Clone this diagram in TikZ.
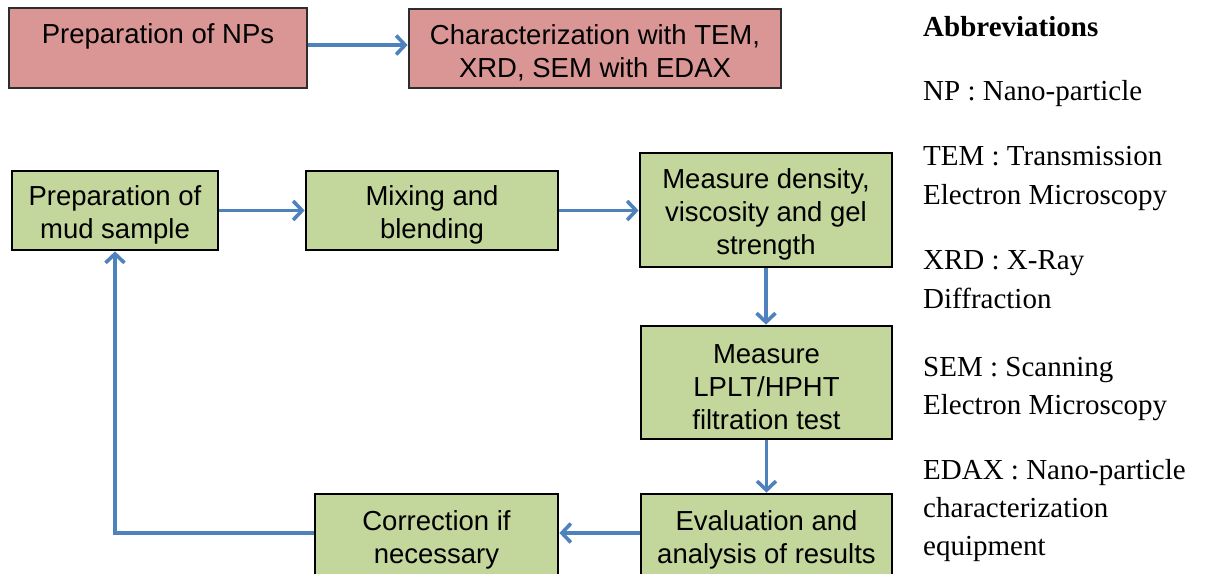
\documentclass[tikz,border=0pt]{standalone}
\usepackage{fontspec}
\setmainfont{Liberation Sans}
\newfontfamily\abbrfont{Liberation Serif}
\usetikzlibrary{arrows.meta}

\definecolor{boxred}{RGB}{217,150,148}
\definecolor{boxgreen}{RGB}{195,214,155}
\definecolor{flowblue}{RGB}{79,129,189}
\definecolor{redframe}{RGB}{45,45,45}

% tall first-line strut: sets the box text a little lower
\newcommand\topstrut{\rule{0pt}{29pt}}

\begin{document}
\begin{tikzpicture}[x=1pt,y=-1pt,
  box/.style={draw, line width=2.8pt, align=center, inner sep=0pt,
    font=\fontsize{27.5}{33}\selectfont, text=black},
  redbox/.style={box, fill=boxred, draw=redframe},
  greenbox/.style={box, fill=boxgreen, draw=black},
  flow/.style={draw=flowblue, line width=3.6pt,
    -{Straight Barb[length=9pt,width=19pt]}},
  abbr/.style={anchor=base west, inner sep=0pt,
    font=\abbrfont\fontsize{29}{35}\selectfont}]

\useasboundingbox (0,0) rectangle (1207,573);

% nanoparticle preparation and characterization
\node[redbox, minimum width=298pt, minimum height=80pt] (np) at (158,48)
  {\topstrut Preparation of NPs\\\phantom{Xg}};
\node[redbox, minimum width=372pt, minimum height=79pt] (char) at (595,48.5)
  {\topstrut Characterization with TEM,\\XRD, SEM with EDAX};

% mud testing loop
\node[greenbox, minimum width=206pt, minimum height=79pt] (mud) at (115,210.5)
  {\topstrut Preparation of\\mud sample};
\node[greenbox, minimum width=252pt, minimum height=79pt] (mix) at (432,210.5)
  {\topstrut Mixing and\\blending};
\node[greenbox, minimum width=252pt, minimum height=114pt] (dens) at (766,210)
  {\topstrut Measure density,\\viscosity and gel\\strength};
\node[greenbox, minimum width=251pt, minimum height=113pt] (filt) at (766.5,382.5)
  {\topstrut Measure\\LPLT/HPHT\\filtration test};
\node[greenbox, minimum width=251pt, minimum height=82pt] (eval) at (766.5,535)
  {\topstrut Evaluation and\\analysis of results};
\node[greenbox, minimum width=243pt, minimum height=82pt] (corr) at (436.5,535)
  {\topstrut Correction if\\necessary};

% connectors
\draw[flow] ([yshift=3pt]np.east) -- ([yshift=3pt]np.east -| char.west);
\draw[flow] (mud.east) -- (mud.east -| mix.west);
\draw[flow] (mix.east) -- (mix.east -| dens.west);
\draw[flow] (dens.south) -- (dens.south |- filt.north);
\draw[flow] (filt.south) -- (filt.south |- eval.north);
\draw[flow] ([yshift=2pt]eval.west) -- ([yshift=2pt]eval.west -| corr.east);
\draw[flow] ([yshift=2pt]corr.west) -| (mud.south);

% abbreviations
\node[abbr] (ab0) at (923,36) {\bfseries Abbreviations};
\node[abbr] (ab1) at (923,100.7) {NP : Nano-particle};
\node[abbr] (ab2) at (923,165.7) {TEM : Transmission};
\node[abbr] (ab3) at (923,204) {Electron Microscopy};
\node[abbr] (ab4) at (923,269.3) {XRD : X-Ray};
\node[abbr] (ab5) at (923,308) {Diffraction};
\node[abbr] (ab6) at (923,376) {SEM : Scanning};
\node[abbr] (ab7) at (923,414) {Electron Microscopy};
\node[abbr] (ab8) at (923,479) {EDAX : Nano-particle};
\node[abbr] (ab9) at (923,517) {characterization};
\node[abbr] (ab10) at (923,555) {equipment};
\end{tikzpicture}
\end{document}
